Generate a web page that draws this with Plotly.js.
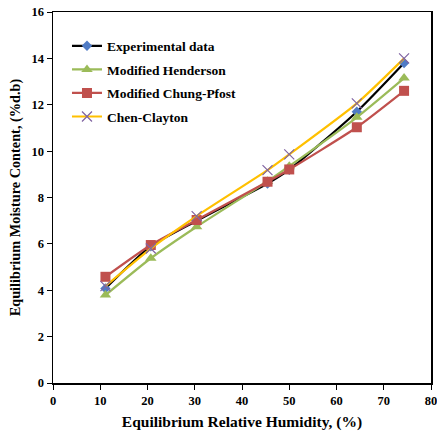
<!DOCTYPE html>
<html>
<head>
<meta charset="utf-8">
<script src="https://cdn.plot.ly/plotly-3.0.1.min.js"></script>
<style>html,body{margin:0;padding:0;background:#fff;}#chart{width:437px;height:432px;}</style>
</head>
<body>
<div id="chart"></div>
<script>
var rh = [11.1, 20.7, 30.4, 45.4, 50.0, 64.3, 74.3];
var experimental = [4.08, 5.9, 7.0, 8.6, 9.2, 11.7, 13.8];
var henderson = [3.79, 5.38, 6.74, 8.7, 9.35, 11.46, 13.15];
var chungPfost = [4.58, 5.95, 7.03, 8.68, 9.21, 11.03, 12.6];
var chenClayton = [4.18, 5.8, 7.2, 9.18, 9.86, 12.06, 14.0];
var seriesNames = ["Experimental data", "Modified Henderson", "Modified Chung-Pfost", "Chen-Clayton"];
var xTitle = "Equilibrium Relative Humidity, (%)";
var yTitle = "Equilibrium Moisture Content, (%d.b)";

var font = "Liberation Serif, Times New Roman, serif";
function tr(name, y, lineColor, markerColor, symbol, size, extra) {
  var t = {
    x: rh, y: y, name: name, legendgroup: name, type: "scatter", mode: "lines+markers",
    line: {color: lineColor, width: 2.2, shape: "spline", smoothing: 0.6},
    marker: {color: markerColor, symbol: symbol, size: size}
  };
  if (extra) t.marker.line = extra;
  return t;
}
var data = [
  tr(seriesNames[0], experimental, "#000000", "#4F7BC5", "diamond", 8),
  tr(seriesNames[1], henderson, "#9BBB59", "#9BBB59", "triangle-up", 10),
  tr(seriesNames[2], chungPfost, "#C0504D", "#C0504D", "square", 10),
  tr(seriesNames[3], chenClayton, "#FFC000", "#8064A2", "x-thin-open", 10, {color: "#8064A2", width: 1.2})
];
var layout = {
  width: 437, height: 432,
  margin: {l: 53, r: 6, t: 12, b: 49},
  paper_bgcolor: "#fff", plot_bgcolor: "#fff",
  font: {family: font, color: "#000", size: 12},
  showlegend: true,
  legend: {x: 0.037, y: 0.95, xanchor: "left", yanchor: "top", bgcolor: "rgba(0,0,0,0)",
           font: {family: font, size: 13.5, color: "#000", weight: "bold"}, tracegroupgap: 3},
  xaxis: {range: [0, 80], dtick: 10, showgrid: false, zeroline: false, showline: true, linecolor: "#000", linewidth: 1.5,
          mirror: true, ticks: "outside", ticklen: 5, tickcolor: "#000", ticklabeloverflow: "allow",
          tickfont: {family: font, size: 12.5, weight: "bold"},
          title: {text: xTitle, font: {family: font, size: 15.5, weight: "bold"}, standoff: 9}},
  yaxis: {range: [0, 16], dtick: 2, showgrid: false, zeroline: false, showline: true, linecolor: "#000", linewidth: 1.5,
          mirror: true, ticks: "outside", ticklen: 5, tickcolor: "#000", ticklabeloverflow: "allow",
          tickfont: {family: font, size: 12.5, weight: "bold"},
          title: {text: yTitle, font: {family: font, size: 14.3, weight: "bold"}, standoff: 7}}
};
Plotly.newPlot("chart", data, layout, {displayModeBar: false, staticPlot: true});
</script>
</body>
</html>
